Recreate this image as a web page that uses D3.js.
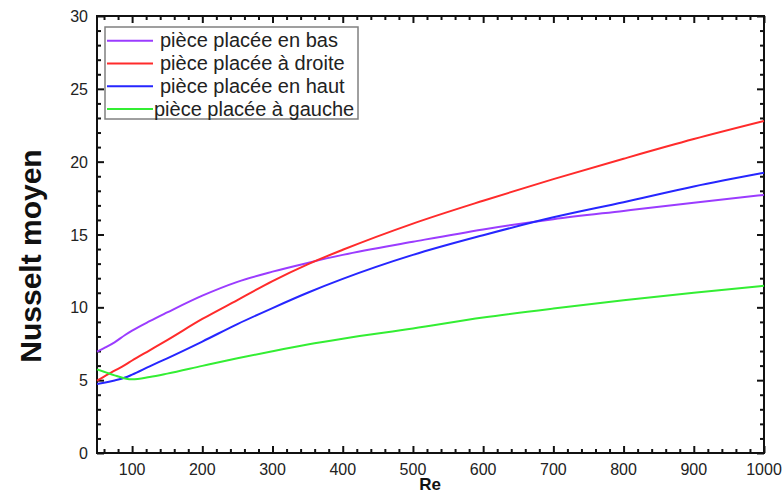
<!DOCTYPE html>
<html>
<head>
<meta charset="utf-8">
<script src="https://cdn.jsdelivr.net/npm/d3@7/dist/d3.min.js"></script>
<style>
  html, body { margin: 0; padding: 0; background: #fff; }
  svg { display: block; }
  text { font-family: "Liberation Sans", Arial, sans-serif; fill: #222; }
</style>
</head>
<body>
<svg id="chart" width="784" height="495"></svg>
<script>
// Reynolds number samples
const re = [50, 60, 75, 90, 100, 125, 150, 200, 250, 300, 350, 400, 500, 600, 700, 800, 900, 1000];

// Mean Nusselt number for each position of the part
const nuBas    = [6.95, 7.2, 7.6, 8.1, 8.4, 9.05, 9.65, 10.8, 11.75, 12.45, 13.05, 13.6, 14.5, 15.35, 16.05, 16.62, 17.18, 17.72];
const nuDroite = [4.96, 5.25, 5.65, 6.05, 6.35, 7.05, 7.75, 9.2, 10.5, 11.8, 12.95, 13.95, 15.75, 17.32, 18.8, 20.2, 21.55, 22.79];
const nuHaut   = [4.74, 4.82, 4.98, 5.18, 5.38, 5.95, 6.5, 7.65, 8.85, 9.95, 11.0, 11.95, 13.6, 14.95, 16.18, 17.22, 18.3, 19.24];
const nuGauche = [5.74, 5.58, 5.33, 5.12, 5.06, 5.22, 5.45, 5.98, 6.5, 6.99, 7.45, 7.85, 8.55, 9.3, 9.92, 10.48, 11.0, 11.48];

const seriesNames  = ["pièce placée en bas", "pièce placée à droite", "pièce placée en haut", "pièce placée à gauche"];
const seriesColors = ["#9b3cff", "#ff2b2b", "#2626ff", "#33ee33"];

const xTicks = [100, 200, 300, 400, 500, 600, 700, 800, 900, 1000];
const yTicks = [0, 5, 10, 15, 20, 25, 30];

const xLabel = "Re";
const yLabel = "Nusselt moyen";

const svg = d3.select("#chart");
const plot = { left: 97, right: 764, top: 16, bottom: 453 };

const x = d3.scaleLinear().domain([50, 1000]).range([plot.left, plot.right]);
const y = d3.scaleLinear().domain([0, 30]).range([plot.bottom, plot.top]);

const xMinor = d3.range(60, 1000, 20).filter(v => v % 100 !== 0);
const yMinor = d3.range(1, 30, 1).filter(v => v % 5 !== 0);

// Inward ticks on all four sides
function tickAxis(axisFn, scale, major, minor, transform) {
  const g = svg.append("g").attr("transform", transform);
  g.call(axisFn(scale).tickValues(major).tickSize(-7).tickFormat(""));
  g.append("g").call(axisFn(scale).tickValues(minor).tickSize(-4).tickFormat(""));
  g.selectAll(".domain").remove();
  g.selectAll("line").attr("stroke", "#111").attr("stroke-width", 2);
  return g;
}
tickAxis(d3.axisBottom, x, xTicks, xMinor, `translate(0,${plot.bottom})`);
tickAxis(d3.axisTop, x, xTicks, xMinor, `translate(0,${plot.top})`);
tickAxis(d3.axisLeft, y, yTicks, yMinor, `translate(${plot.left},0)`);
tickAxis(d3.axisRight, y, yTicks, yMinor, `translate(${plot.right},0)`);

// Frame
svg.append("rect")
  .attr("x", plot.left).attr("y", plot.top)
  .attr("width", plot.right - plot.left).attr("height", plot.bottom - plot.top)
  .attr("fill", "none").attr("stroke", "#111").attr("stroke-width", 2);

// Tick labels
svg.append("g").selectAll("text").data(xTicks).join("text")
  .attr("x", d => x(d)).attr("y", 475)
  .attr("text-anchor", "middle").attr("font-size", 16)
  .text(d => d);
svg.append("g").selectAll("text").data(yTicks).join("text")
  .attr("x", 88).attr("y", d => y(d) + 6)
  .attr("text-anchor", "end").attr("font-size", 16)
  .text(d => d);

// Axis titles
svg.append("text")
  .attr("x", 430).attr("y", 490)
  .attr("text-anchor", "middle").attr("font-size", 17).attr("font-weight", "bold")
  .style("fill", "#111")
  .text(xLabel);
svg.append("text")
  .attr("transform", "translate(41,256) rotate(-90)")
  .attr("text-anchor", "middle").attr("font-size", 30).attr("font-weight", "bold")
  .style("fill", "#111")
  .text(yLabel);

// Curves
const allSeries = [nuBas, nuDroite, nuHaut, nuGauche];
const line = d3.line()
  .x(d => x(d[0])).y(d => y(d[1]))
  .curve(d3.curveMonotoneX);

svg.append("g").selectAll("path").data(allSeries).join("path")
  .attr("d", vals => line(re.map((r, i) => [r, vals[i]])))
  .attr("fill", "none")
  .attr("stroke", (d, i) => seriesColors[i])
  .attr("stroke-width", 2);

// Legend
const legend = svg.append("g");
legend.append("rect")
  .attr("x", 105).attr("y", 27).attr("width", 253).attr("height", 92)
  .attr("fill", "#fff").attr("stroke", "#808080").attr("stroke-width", 1.5);
const rows = legend.selectAll("g").data(seriesNames).join("g")
  .attr("transform", (d, i) => `translate(0,${40.7 + i * 22.8})`);
rows.append("line")
  .attr("x1", 107).attr("x2", 153).attr("y1", 0).attr("y2", 0)
  .attr("stroke", (d, i) => seriesColors[i]).attr("stroke-width", 2);
rows.append("text")
  .attr("x", (d, i) => i === 3 ? 154 : 160).attr("y", 6.5)
  .attr("font-size", 20)
  .text(d => d);
</script>
</body>
</html>
